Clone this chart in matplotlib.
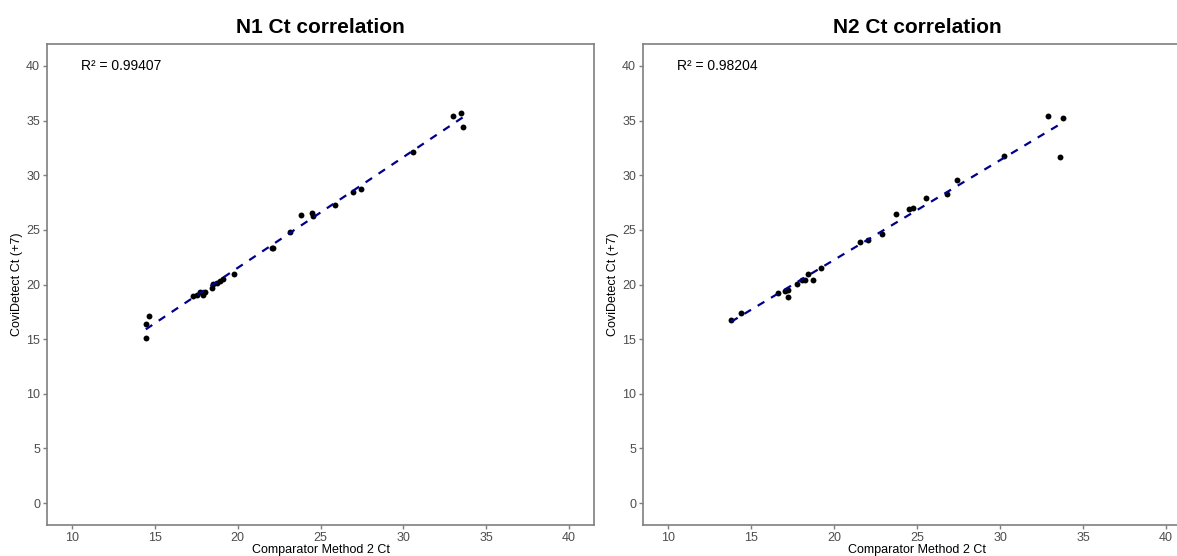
import numpy as np
import matplotlib
matplotlib.use("Agg")
import matplotlib.pyplot as plt

plt.rcParams['font.family'] = ['Liberation Sans', 'DejaVu Sans']

# N1 target: comparator Ct vs CoviDetect Ct (+7)
n1_x = [14.46, 14.5, 14.68, 17.29, 17.53, 17.73, 17.93, 18.01, 18.47, 18.49,
        18.75, 18.92, 19.14, 19.78, 22.05, 22.15, 23.19, 23.8, 24.48, 24.54,
        25.9, 26.99, 27.47, 30.6, 33.01, 33.45, 33.61]
n1_y = [15.1, 16.4, 17.08, 18.97, 19.08, 19.27, 19.08, 19.27, 19.7, 20.03,
        20.12, 20.34, 20.49, 20.94, 23.38, 23.38, 24.81, 26.39, 26.55, 26.27,
        27.28, 28.43, 28.77, 32.1, 35.37, 35.68, 34.37]

# N2 target
n2_x = [13.8, 14.41, 16.61, 17.07, 17.25, 17.21, 17.76, 18.08, 18.24, 18.41,
        18.75, 19.19, 21.58, 22.02, 22.89, 23.76, 24.53, 24.75, 25.52, 26.83,
        27.38, 30.26, 32.89, 33.82, 33.6]
n2_y = [16.71, 17.41, 19.21, 19.42, 19.54, 18.87, 20.06, 20.43, 20.43, 20.94,
        20.37, 21.52, 23.93, 24.08, 24.63, 26.46, 26.88, 27.03, 27.95, 28.28,
        29.53, 31.75, 35.43, 35.22, 31.66]

titles = ["N1 Ct correlation", "N2 Ct correlation"]
r2_labels = ["R\u00b2 = 0.99407", "R\u00b2 = 0.98204"]
ticks = [10, 15, 20, 25, 30, 35, 40]
yticks = [0, 5, 10, 15, 20, 25, 30, 35, 40]

fig = plt.figure(figsize=(11.77, 5.56), dpi=100)
W, H = 1177, 556
ax1 = fig.add_axes([47 / W, (556 - 525) / H, 547 / W, 481 / H])
ax2 = fig.add_axes([643 / W, (556 - 525) / H, 548 / W, 481 / H])

for ax, xs, ys, title, lab in zip([ax1, ax2], [n1_x, n2_x], [n1_y, n2_y], titles, r2_labels):
    xs = np.array(xs)
    ys = np.array(ys)
    slope, icpt = np.polyfit(xs, ys, 1)
    xl = np.array([xs.min(), xs.max()])
    ax.plot(xl, slope * xl + icpt, color='#00008B', lw=1.6,
            linestyle=(0, (3.5, 3.5)), zorder=3)
    ax.scatter(xs, ys, s=18, color='black', zorder=2, linewidths=0)
    ax.text(13, 40, lab, ha='center', va='center', fontsize=10, color='black')

    ax.set_xlim(8.5, 41.5)
    ax.set_ylim(-2, 42)
    ax.set_xticks(ticks)
    ax.set_yticks(yticks)
    ax.tick_params(colors='#7f7f7f', labelcolor='#4d4d4d', labelsize=9,
                   length=3, width=1, pad=2)
    for sp in ax.spines.values():
        sp.set_color('#7f7f7f')
        sp.set_linewidth(1.2)
    ax.set_title(title, fontsize=15, fontweight='bold', pad=8)
    ax.set_xlabel("Comparator Method 2 Ct", fontsize=9, labelpad=0)
    ax.set_ylabel("CoviDetect Ct (+7)", fontsize=9, labelpad=2)

fig.savefig("out.png", dpi=100)
